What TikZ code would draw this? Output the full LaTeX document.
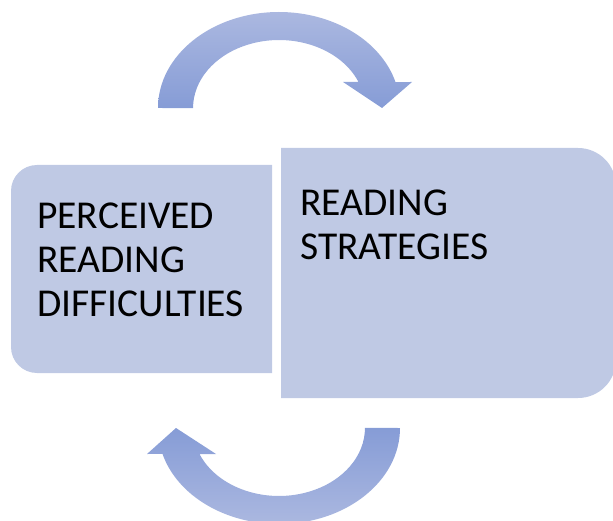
\documentclass[tikz,border=0pt]{standalone}
\usepackage{fontspec}
\setmainfont{Carlito}
\usepackage{tikz}
\definecolor{cycleBody}{RGB}{191,201,228}
\definecolor{cycleLight}{RGB}{171,184,224}
\definecolor{cycleDark}{RGB}{134,156,214}
\tikzstyle{panel} = [fill=cycleBody]
\tikzstyle{boxtext} = [anchor=north west, inner sep=0pt, align=left,
        font={\fontsize{39.5}{44}\selectfont}]

\begin{document}
\begin{tikzpicture}[
            x=1pt, y=1pt,
            topflow/.style={top color=cycleLight, bottom color=cycleDark},
            bottomflow/.style={top color=cycleDark, bottom color=cycleLight},
            ]
            \useasboundingbox (0,0) rectangle (613,520);
            \clip (0,0) rectangle (613,520);
            % the two panels
            \fill[panel] (272,355) [rounded corners=26pt] -- (11,355) -- (11,147) [sharp corners] -- (272,147) -- cycle;
            \fill[panel] (281,372) [rounded corners=38pt] -- (616,372) -- (616,122) [sharp corners] -- (281,122) -- cycle;
            \node[boxtext] (difficulties) at (37,317) {PERCEIVED\\READING\\DIFFICULTIES};
            \node[boxtext] (strategies) at (300,330) {READING\\STRATEGIES};
            % the cycle arrows
            \shade[topflow] (158,412) arc[start angle=180, end angle=15.7, x radius=121, y radius=96]
                -- (412,438) -- (382,412) -- (343,438) -- (358.5,438)
                arc[start angle=22.5, end angle=180, x radius=86, y radius=68] -- cycle;
            \shade[bottomflow] (400,92) arc[start angle=0, end angle=-164.3, x radius=121, y radius=96]
                -- (147,66) -- (176,92) -- (216,66) -- (199.5,66)
                arc[start angle=-157.5, end angle=0, x radius=86, y radius=68] -- cycle;
        \end{tikzpicture}
\end{document}
